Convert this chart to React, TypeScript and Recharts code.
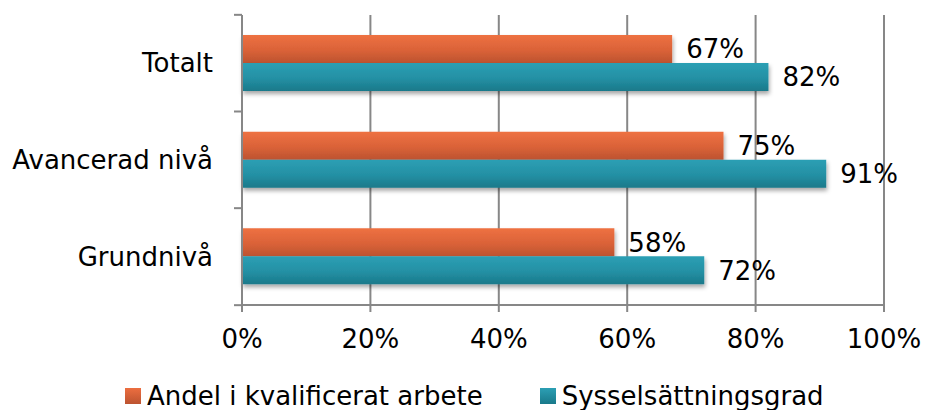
import React from "react";
import {
  BarChart,
  Bar,
  XAxis,
  YAxis,
  CartesianGrid,
  Legend,
  LabelList,
} from "recharts";

const categories = ["Totalt", "Avancerad nivå", "Grundnivå"];
const kvalificerat = [0.67, 0.75, 0.58];
const syssel = [0.82, 0.91, 0.72];
const xTicks = [0, 0.2, 0.4, 0.6, 0.8, 1];

const FONT = "'DejaVu Sans', Verdana, sans-serif";
const GRID = "#878787";

const data = categories.map((name, i) => ({
  name,
  kval: kvalificerat[i],
  syss: syssel[i],
}));

const pct = (v: number) => `${Math.round(v * 100)}%`;

function CatTick(props: any) {
  const { x, y, payload, index } = props;
  const half = 48.5;
  return (
    <g>
      <text
        x={x - 21}
        y={y}
        textAnchor="end"
        dominantBaseline="central"
        fontSize={26}
        fontFamily={FONT}
        fill="#000"
      >
        {payload.value}
      </text>
      <line x1={x} x2={x + 8} y1={y - half} y2={y - half} stroke={GRID} strokeWidth={2} />
      {index === categories.length - 1 && (
        <line x1={x} x2={x + 8} y1={y + half} y2={y + half} stroke={GRID} strokeWidth={2} />
      )}
    </g>
  );
}

const legendItems = [
  { label: "Andel i kvalificerat arbete", top: "#EC6E40", bottom: "#BC5330" },
  { label: "Sysselsättningsgrad", top: "#2C9FB4", bottom: "#19798A" },
];

function LegendContent() {
  return (
    <div
      style={{
        display: "flex",
        alignItems: "center",
        height: 40,
        paddingLeft: 125,
        transform: "translateY(6px)",
        fontFamily: FONT,
        fontSize: 26,
        color: "#000",
      }}
    >
      {legendItems.map((it, i) => (
        <div key={it.label} style={{ display: "flex", alignItems: "center", marginRight: i === 0 ? 57 : 0 }}>
          <span
            style={{
              display: "inline-block",
              width: 16,
              height: 16,
              marginRight: 6,
              background: `linear-gradient(${it.top}, ${it.bottom})`,
            }}
          />
          <span>{it.label}</span>
        </div>
      ))}
    </div>
  );
}

export default function App() {
  return (
    <div style={{ position: "absolute", left: 0, top: 0, width: 925, height: 410, background: "#fff" }}>
      <BarChart
        width={925}
        height={410}
        data={data}
        layout="vertical"
        margin={{ top: 15, right: 41, left: 0, bottom: 0 }}
        barGap={0}
        barSize={28}
      >
        <defs>
          <linearGradient id="gOrange" x1="0" y1="0" x2="0" y2="1">
            <stop offset="0%" stopColor="#EE7142" />
            <stop offset="55%" stopColor="#DA6238" />
            <stop offset="100%" stopColor="#BC5330" />
          </linearGradient>
          <linearGradient id="gTeal" x1="0" y1="0" x2="0" y2="1">
            <stop offset="0%" stopColor="#2C9FB4" />
            <stop offset="55%" stopColor="#2490A4" />
            <stop offset="100%" stopColor="#19798A" />
          </linearGradient>
          <filter id="shadow" x="-5%" y="-20%" width="110%" height="160%">
            <feDropShadow dx="1" dy="3" stdDeviation="2" floodColor="#000" floodOpacity="0.35" />
          </filter>
        </defs>
        <CartesianGrid horizontal={false} stroke={GRID} strokeWidth={2} />
        <XAxis
          type="number"
          domain={[0, 1]}
          ticks={xTicks}
          tickFormatter={pct}
          axisLine={{ stroke: GRID, strokeWidth: 2 }}
          tickLine={{ stroke: GRID, strokeWidth: 2 }}
          tickSize={7}
          height={65}
          tick={{ fontSize: 26, fontFamily: FONT, fill: "#000", dy: 16 }}
        />
        <YAxis
          type="category"
          dataKey="name"
          width={242}
          axisLine={{ stroke: GRID, strokeWidth: 2 }}
          tickLine={false}
          tick={<CatTick />}
        />
        <Legend
          verticalAlign="bottom"
          height={40}
          wrapperStyle={{ left: 0, width: 925 }}
          content={<LegendContent />}
        />
        <Bar
          dataKey="kval"
          name="Andel i kvalificerat arbete"
          fill="url(#gOrange)"
          filter="url(#shadow)"
          isAnimationActive={false}
        >
          <LabelList
            dataKey="kval"
            position="right"
            offset={14}
            formatter={pct}
            style={{ fontSize: 26, fontFamily: FONT, fill: "#000" }}
          />
        </Bar>
        <Bar
          dataKey="syss"
          name="Sysselsättningsgrad"
          fill="url(#gTeal)"
          filter="url(#shadow)"
          isAnimationActive={false}
        >
          <LabelList
            dataKey="syss"
            position="right"
            offset={14}
            formatter={pct}
            style={{ fontSize: 26, fontFamily: FONT, fill: "#000" }}
          />
        </Bar>
      </BarChart>
    </div>
  );
}
